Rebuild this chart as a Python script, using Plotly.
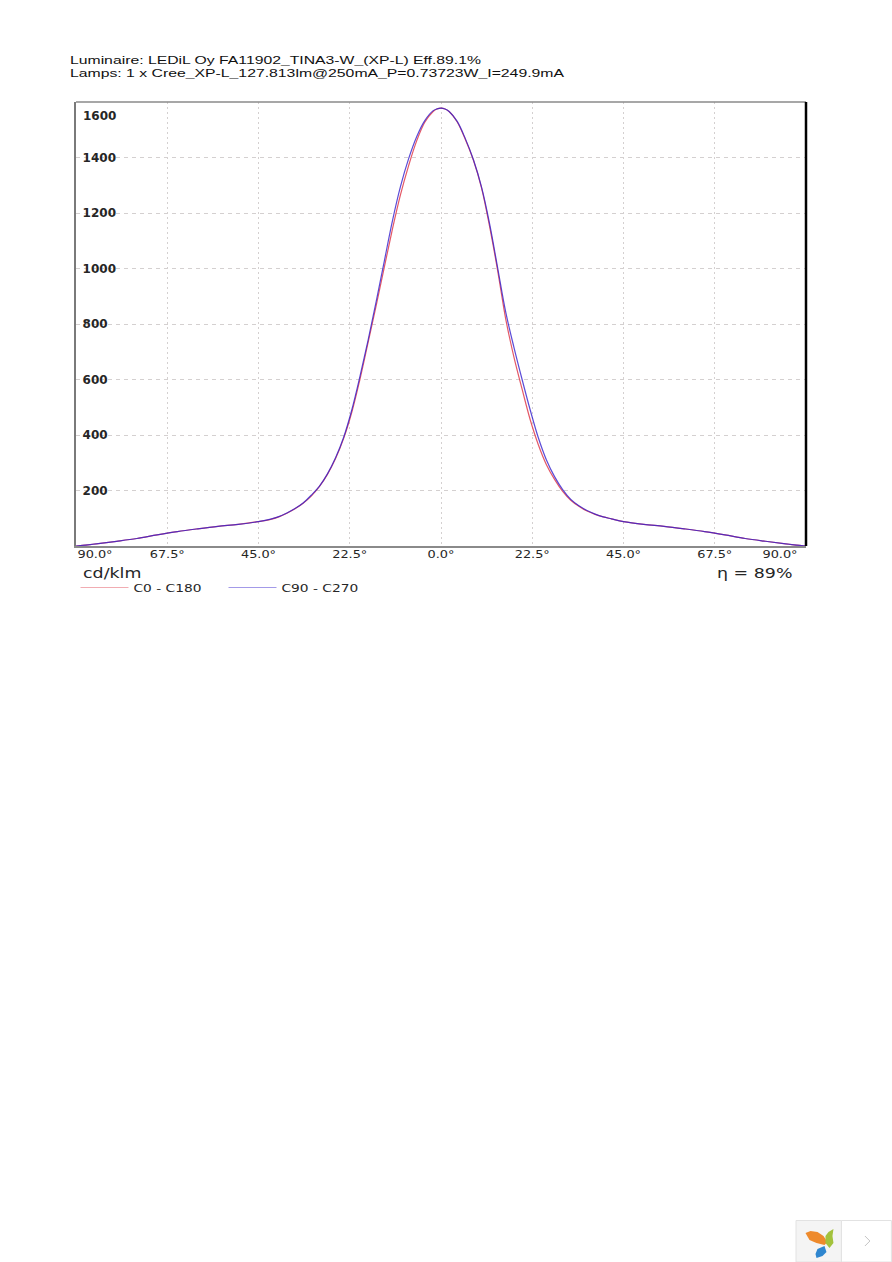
import plotly.graph_objects as go

angles = [-90,-85,-80,-75,-70,-65,-60,-55,-50,-45,-42,-40,-38,-36,-34,-32,-30,-28,-26,-24,-22,-20,-18,-16,-14,-12,-10,-8,-6,-4,-2,-1,0,
          1,2,4,6,8,10,12,14,16,18,20,22,24,26,28,30,32,34,36,38,40,42,45,50,55,60,65,70,75,80,85,90]
c0_c180 = [0,8,17,27,40,52,62,71,78,88,96,105,118,134,154,180,214,258,315,388,482,600,732,865,1003,1140,1265,1370,1460,1527,1565,1575,1578,
           1575,1566,1528,1465,1390,1290,1150,990,815,680,565,455,365,293,240,197,165,143,126,114,105,98,88,78,71,62,52,40,27,17,8,0]
c90_c270 = [0,8,17,27,40,52,62,71,78,88,97,106,119,135,155,183,215,260,318,392,490,610,740,880,1025,1170,1295,1395,1475,1533,1568,1575,1578,
            1575,1566,1530,1468,1392,1293,1160,1000,840,715,600,490,390,310,250,203,168,145,128,115,105,98,88,78,71,62,52,40,27,17,8,0]
x_ticks = [-67.5,-45,-22.5,0,22.5,45,67.5]
x_labels = ["67.5°","45.0°","22.5°","0.0°","22.5°","45.0°","67.5°"]
y_ticks = [200,400,600,800,1000,1200,1400]
title_lines = ["Luminaire: LEDiL Oy FA11902_TINA3-W_(XP-L) Eff.89.1%",
               "Lamps: 1 x Cree_XP-L_127.813lm@250mA_P=0.73723W_I=249.9mA"]

W, H = 892, 1262
L, R, T, B = 75.5, 806.5, 102, 546
def px(x): return (x - L) / (R - L)
def py(y): return (B - y) / (B - T)
FONT = "DejaVu Sans"
INK = "#262626"
GRID = "#d4d0d0"

fig = go.Figure()
fig.add_trace(go.Scatter(x=angles, y=c0_c180, mode="lines", name="C0 - C180",
                         line=dict(color="rgba(225,70,85,0.9)", width=1.2, shape="spline", smoothing=1)))
fig.add_trace(go.Scatter(x=angles, y=c90_c270, mode="lines", name="C90 - C270",
                         line=dict(color="rgba(50,30,205,0.8)", width=1.2, shape="spline", smoothing=1)))

shapes = []
# frame: top and right sides
shapes.append(dict(type="line", xref="paper", yref="paper", x0=px(L), x1=px(R), y0=py(T), y1=py(T),
                   line=dict(color="#8a8a8a", width=1.5), layer="above"))
shapes.append(dict(type="line", xref="paper", yref="paper", x0=px(R), x1=px(R), y0=py(T), y1=py(B),
                   line=dict(color="#000000", width=2.5), layer="above"))
# white backing behind the value labels
for v in y_ticks:
    yy = B - (B - T) * v / 1600
    shapes.append(dict(type="rect", xref="paper", yref="paper", x0=px(80), x1=px(120),
                       y0=py(yy - 7), y1=py(yy + 7), line=dict(width=0), fillcolor="white", layer="between"))

# corner widget
def path(points):
    return "M " + " L ".join(f"{px(a):.5f},{py(b):.5f}" for a, b in points) + " Z"
shapes.append(dict(type="rect", xref="paper", yref="paper", x0=px(796.5), x1=px(842), y0=py(1220.5), y1=py(1262),
                   fillcolor="#f4f4f4", line=dict(color="#e2e2e2", width=1)))
shapes.append(dict(type="rect", xref="paper", yref="paper", x0=px(842), x1=px(892), y0=py(1220.5), y1=py(1262),
                   fillcolor="#ffffff", line=dict(color="#e2e2e2", width=1)))
shapes.append(dict(type="path", xref="paper", yref="paper", fillcolor="#ee8a2c", line=dict(width=0),
                   path=path([(806,1233),(811,1231),(818,1232),(824,1236),(828,1242),(825,1245),(817,1243),(810,1240)])))
shapes.append(dict(type="path", xref="paper", yref="paper", fillcolor="#a3c23c", line=dict(width=0),
                   path=path([(834,1229),(833,1236),(834,1243),(830,1248),(826,1243),(826,1236),(829,1232)])))
shapes.append(dict(type="path", xref="paper", yref="paper", fillcolor="#2f86cf", line=dict(width=0),
                   path=path([(825,1246),(827,1252),(823,1256),(817,1258),(816,1254),(818,1249)])))
shapes.append(dict(type="path", xref="paper", yref="paper", line=dict(color="#c4c4c4", width=1),
                   path=f"M {px(865.5):.5f},{py(1236):.5f} L {px(870.5):.5f},{py(1241):.5f} L {px(865.5):.5f},{py(1246):.5f}"))

def label(text, x, y, size, anchor="left", color=INK, weight=None, family=FONT):
    return dict(text=text, xref="paper", yref="paper", x=px(x), y=py(y), showarrow=False,
                xanchor=anchor, yanchor="middle", align=anchor,
                font=dict(family=family, size=size, color=color, weight=weight))

annotations = [
    label(title_lines[0], 67, 60, 11, family="Liberation Sans", color="#111111"),
    label(title_lines[1], 67, 73, 11, family="Liberation Sans", color="#111111"),
    label("1600", 81, 116, 12, weight=600),
    label("90.0°", 95, 554.5, 11, "center"),
    label("90.0°", 780, 554.5, 11, "center"),
    label("cd/klm", 81, 572.5, 13.5),
    label("η = 89%", 795, 572.5, 13.5, "right"),
]

fig.update_layout(
    width=W, height=H, autosize=False,
    margin=dict(l=L, r=W - R, t=T, b=H - B, pad=0),
    paper_bgcolor="white", plot_bgcolor="white",
    showlegend=True,
    legend=dict(orientation="h", x=px(75), y=py(573), xanchor="left", yanchor="top",
                itemwidth=48, entrywidth=85, entrywidthmode="pixels",
                font=dict(family=FONT, size=10.5, color=INK), bgcolor="rgba(0,0,0,0)",
                tracegroupgap=0, itemclick=False),
    xaxis=dict(range=[-90, 90], tickmode="array", tickvals=x_ticks, ticktext=x_labels,
               showgrid=True, gridcolor=GRID, gridwidth=1.3, griddash="2px,3px", zeroline=False,
               showline=True, linecolor="#8a8a8a", linewidth=1.5, ticks="", ticklabelstandoff=-3,
               tickfont=dict(family=FONT, size=11, color=INK), fixedrange=True),
    yaxis=dict(range=[0, 1600], tickmode="array", tickvals=y_ticks, ticklabelposition="inside",
               ticklabelstandoff=6,
               showgrid=True, gridcolor=GRID, gridwidth=1.3, griddash="4px,4px", zeroline=False,
               showline=True, linecolor="#7a7a7a", linewidth=2, ticks="",
               tickfont=dict(family=FONT, size=12, color=INK, weight=600), fixedrange=True),
    shapes=shapes, annotations=annotations,
)

# The reference page is a horizontally stretched raster: widen the real text to match.
post = """
document.body.style.margin='0';document.documentElement.style.overflow='hidden';
function stretch(t,f,abs){var n=t.getComputedTextLength();t.setAttribute('lengthAdjust','spacingAndGlyphs');t.setAttribute('textLength',abs||n*f);}
document.querySelectorAll('.annotation-text').forEach(function(t){
  var s=t.textContent;
  if(s.indexOf('Luminaire')===0){stretch(t,1,411);}
  else if(s.indexOf('Lamps')===0){stretch(t,1,494);}
  else if(s.indexOf('90.0')===0){stretch(t,1.17);}
  else if(s!=='1600'){stretch(t,1.29);}
});
document.querySelectorAll('.xtick text').forEach(function(t){stretch(t,1.17);});
document.querySelectorAll('.legendtext').forEach(function(t){stretch(t,1.31);});
document.querySelectorAll('.legendlines path').forEach(function(p){p.style.strokeOpacity='0.45';});
"""
fig.write_html("out.html", config=dict(displayModeBar=False), post_script=post)
